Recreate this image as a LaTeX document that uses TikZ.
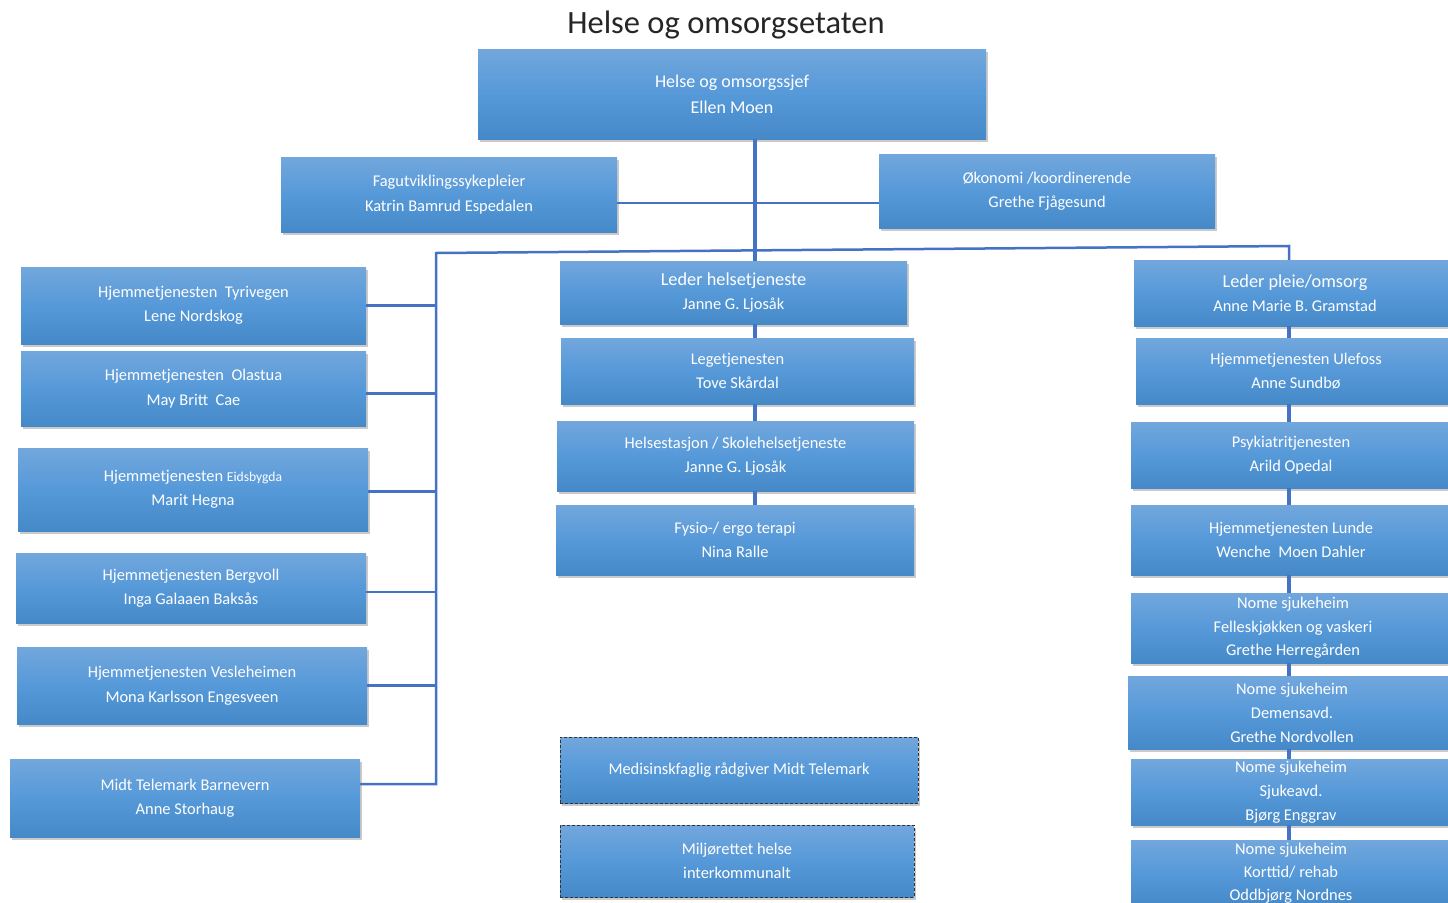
\documentclass[tikz,border=0pt]{standalone}
\usepackage{fontspec}
\setmainfont{Carlito}
\usetikzlibrary{shadows}
\definecolor{unittop}{RGB}{114,167,220}
\definecolor{unitmid}{RGB}{86,153,217}
\definecolor{unitbot}{RGB}{70,137,201}
\definecolor{linkblue}{RGB}{68,114,196}
\newcommand{\lead}[1]{{\fontsize{18.3}{24.5}\selectfont #1}}
\tikzset{
    unit/.style={rectangle, top color=unittop, bottom color=unitbot, middle color=unitmid,
        text=white, align=center, inner sep=0pt, font=\fontsize{16.4}{24.5}\selectfont,
        drop shadow={shadow xshift=1.5pt, shadow yshift=-2.5pt, opacity=0.35, fill=black!60}},
    extunit/.style={unit, draw=black!80, dash pattern=on 3pt off 2pt, line width=1pt},
    link/.style={draw=linkblue, line width=2.5pt},
}
\begin{document}
\begin{tikzpicture}[x=1pt, y=-1pt]
    \useasboundingbox (0,0) rectangle (1448,902);
    \clip (0,0) rectangle (1448,902);
    % title and top
    \node[font=\fontsize{32.5}{36}\selectfont, text=black!85] (title) at (726,25) {Helse og omsorgsetaten};
    \node[unit, font=\fontsize{18}{26}\selectfont, minimum width=508, minimum height=90] (chief) at (732,94) {Helse og omsorgssjef\\Ellen Moen};
    \node[unit, minimum width=336, minimum height=75] (fag) at (449,194.5) {Fagutviklingssykepleier\\Katrin Bamrud Espedalen};
    \node[unit, minimum width=336, minimum height=74] (okonomi) at (1047,191) {Økonomi /koordinerende\\Grethe Fjågesund};
    % left column
    \node[unit, minimum width=345, minimum height=77] (tyri) at (193.5,305.5) {Hjemmetjenesten\ \ Tyrivegen\\Lene Nordskog};
    \node[unit, minimum width=345, minimum height=75] (olastua) at (193.5,388.5) {Hjemmetjenesten\ \ Olastua\\May Britt\ \ Cae};
    \node[unit, minimum width=350, minimum height=83] (eids) at (193,489.5) {Hjemmetjenesten {\fontsize{13.6}{24.5}\selectfont Eidsbygda}\\Marit Hegna};
    \node[unit, minimum width=350, minimum height=70] (bergvoll) at (191,588) {Hjemmetjenesten Bergvoll\\Inga Galaaen Baksås};
    \node[unit, minimum width=350, minimum height=77] (vesle) at (192,685.5) {Hjemmetjenesten Vesleheimen\\Mona Karlsson Engesveen};
    \node[unit, minimum width=350, minimum height=78] (barnevern) at (185,798) {Midt Telemark Barnevern\\Anne Storhaug};
    % middle column
    \node[unit, minimum width=347, minimum height=63] (helse) at (733.5,292.5) {\lead{Leder helsetjeneste}\\Janne G. Ljosåk};
    \node[unit, minimum width=353, minimum height=66] (lege) at (737.5,371) {Legetjenesten\\Tove Skårdal};
    \node[unit, minimum width=357, minimum height=70] (stasjon) at (735.5,456) {Helsestasjon / Skolehelsetjeneste\\Janne G. Ljosåk};
    \node[unit, minimum width=358, minimum height=70] (fysio) at (735,540) {Fysio-/ ergo terapi\\Nina Ralle};
    \node[extunit, minimum width=358, minimum height=66] (medisinsk) at (739,770) {Medisinskfaglig rådgiver Midt Telemark};
    \node[extunit, minimum width=354, minimum height=72] (miljo) at (737,861) {Miljørettet helse\\interkommunalt};
    % right column
    \node[unit, minimum width=322, minimum height=66] (pleie) at (1295,293) {\lead{Leder pleie/omsorg}\\Anne Marie B. Gramstad};
    \node[unit, minimum width=320, minimum height=66] (ulefoss) at (1296,371) {Hjemmetjenesten Ulefoss\\Anne Sundbø};
    \node[unit, minimum width=320, minimum height=66] (psyk) at (1291,455) {Psykiatritjenesten\\Arild Opedal};
    \node[unit, minimum width=320, minimum height=70] (lunde) at (1291,540) {Hjemmetjenesten Lunde\\Wenche\ \ Moen Dahler};
    \node[unit, font=\fontsize{16.4}{23.5}\selectfont, minimum width=324, minimum height=70] (felles) at (1293,628) {Nome sjukeheim\\Felleskjøkken og vaskeri\\Grethe Herregården};
    \node[unit, font=\fontsize{16.4}{24}\selectfont, minimum width=328, minimum height=73] (demens) at (1292,712.5) {Nome sjukeheim\\Demensavd.\\Grethe Nordvollen};
    \node[unit, font=\fontsize{16.4}{24}\selectfont, minimum width=320, minimum height=66] (sjuke) at (1291,792) {Nome sjukeheim\\Sjukeavd.\\Bjørg Enggrav};
    \node[unit, font=\fontsize{16.4}{23}\selectfont, minimum width=320, minimum height=66] (kort) at (1291,873) {Nome sjukeheim\\Korttid/ rehab\\Oddbjørg Nordnes};
    % connectors
    \coordinate (trunk) at (755,0);
    \coordinate (staff) at (0,203);
    \coordinate (lbus) at (436,253);
    \coordinate (rbus) at (1289,246);
    \draw[link, line width=3.5pt] (chief.south -| trunk) -- (helse.north -| trunk);
    \draw[link] (fag.east |- staff) -- (okonomi.west |- staff);
    \draw[link] ([yshift=14pt]barnevern.east) -| (lbus) -- (rbus) -- (pleie.north -| rbus);
    \foreach \n/\s in {tyri/0, olastua/-5, eids/-2, bergvoll/-4, vesle/0}
    {
        \draw[link] ([yshift=\s pt]\n.east) -- ([yshift=\s pt]\n.east -| lbus);
    }
    \foreach \a/\b in {helse/lege, lege/stasjon, stasjon/fysio}
    {
        \draw[link, line width=3.5pt] (\a.south -| trunk) -- (\b.north -| trunk);
    }
    \foreach \a/\b in {pleie/ulefoss, ulefoss/psyk, psyk/lunde, lunde/felles, felles/demens, demens/sjuke, sjuke/kort}
    {
        \draw[link, line width=3.5pt] (\a.south -| rbus) -- (\b.north -| rbus);
    }
\end{tikzpicture}
\end{document}
